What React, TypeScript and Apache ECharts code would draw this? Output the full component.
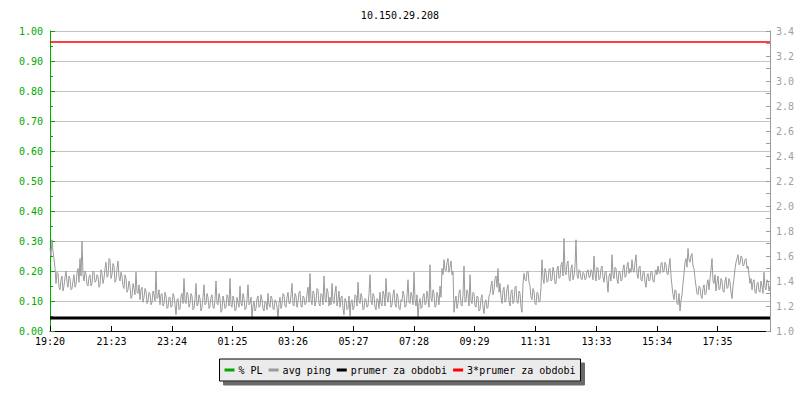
import React, { useEffect, useRef } from "react";
import * as echarts from "echarts";

const title = "10.150.29.208";
const STEP_MIN = 2; // minutes between samples
const X_MAX_MIN = 1440;
const tickMinutes = [0, 123, 244, 365, 486, 607, 728, 849, 971, 1093, 1214, 1335];
const tickLabels = ["19:20", "21:23", "23:24", "01:25", "03:26", "05:27", "07:28", "09:29", "11:31", "13:33", "15:34", "17:35"];
const legendNames = ["% PL", "avg ping", "prumer za obdobi", "3*prumer za obdobi"];
const plValues: number[] = [];
const prumer = 1.104;
const pingValues = [
  1.66,1.60, 1.73,1.64, 1.58,1.50, 1.38,1.47, 1.46,1.35, 1.33,1.41, 1.44,1.32, 1.36,1.43, 1.48,1.39, 1.35,1.44,
  1.42,1.33, 1.34,1.40, 1.45,1.35, 1.37,1.46, 1.50,1.39, 1.58,1.44, 1.72,1.45, 1.40,1.48, 1.46,1.37, 1.36,1.43,
  1.45,1.36, 1.38,1.48, 1.47,1.39, 1.40,1.45, 1.44,1.35, 1.37,1.49, 1.46,1.38, 1.42,1.50, 1.55,1.43, 1.44,1.58,
  1.57,1.42, 1.45,1.54, 1.52,1.39, 1.41,1.50, 1.56,1.43, 1.40,1.47, 1.44,1.36, 1.34,1.45, 1.42,1.31, 1.33,1.40,
  1.36,1.26, 1.28,1.38, 1.34,1.29, 1.47,1.31, 1.30,1.37, 1.25,1.33, 1.35,1.23, 1.27,1.34, 1.32,1.22, 1.24,1.31,
  1.30,1.21, 1.23,1.32, 1.29,1.24, 1.48,1.26, 1.27,1.33, 1.21,1.29, 1.30,1.20, 1.22,1.31, 1.28,1.18, 1.19,1.27,
  1.27,1.19, 1.20,1.30, 1.28,1.21, 1.13,1.25, 1.26,1.17, 1.18,1.28, 1.30,1.22, 1.42,1.24, 1.22,1.31, 1.29,1.19,
  1.22,1.30, 1.28,1.17, 1.18,1.26, 1.38,1.20, 1.21,1.29, 1.26,1.16, 1.19,1.27, 1.37,1.21, 1.22,1.30, 1.27,1.18,
  1.20,1.27, 1.29,1.19, 1.18,1.25, 1.40,1.22, 1.21,1.30, 1.26,1.15, 1.17,1.28, 1.24,1.18, 1.19,1.29, 1.27,1.20,
  1.42,1.21, 1.19,1.28, 1.25,1.16, 1.17,1.27, 1.23,1.19, 1.36,1.22, 1.20,1.30, 1.26,1.17, 1.18,1.25, 1.37,1.21,
  1.22,1.27, 1.11,1.20, 1.24,1.16, 1.18,1.26, 1.28,1.19, 1.20,1.29, 1.25,1.18, 1.16,1.24, 1.23,1.17, 1.30,1.21,
  1.19,1.28, 1.26,1.18, 1.17,1.25, 1.24,1.19, 1.10,1.22, 1.27,1.18, 1.21,1.30, 1.29,1.20, 1.19,1.27, 1.31,1.22,
  1.22,1.29, 1.38,1.21, 1.20,1.30, 1.28,1.19, 1.23,1.31, 1.32,1.20, 1.19,1.28, 1.27,1.21, 1.22,1.30, 1.35,1.23,
  1.46,1.25, 1.21,1.32, 1.30,1.20, 1.24,1.34, 1.33,1.22, 1.20,1.30, 1.29,1.21, 1.44,1.26, 1.23,1.34, 1.31,1.20,
  1.27,1.21, 1.38,1.24, 1.22,1.31, 1.36,1.20, 1.25,1.32, 1.19,1.27, 1.28,1.18, 1.13,1.26, 1.24,1.17, 1.18,1.28,
  1.12,1.23, 1.25,1.17, 1.19,1.29, 1.28,1.20, 1.39,1.24, 1.22,1.30, 1.27,1.17, 1.18,1.26, 1.25,1.19, 1.20,1.30,
  1.45,1.24, 1.21,1.30, 1.28,1.19, 1.17,1.26, 1.25,1.18, 1.31,1.22, 1.20,1.32, 1.29,1.20, 1.42,1.27, 1.23,1.31,
  1.30,1.19, 1.21,1.29, 1.33,1.22, 1.19,1.30, 1.27,1.18, 1.17,1.25, 1.24,1.32, 1.29,1.19, 1.20,1.28, 1.41,1.23,
  1.22,1.31, 1.28,1.21, 1.47,1.25, 1.20,1.29, 1.10,1.22, 1.26,1.18, 1.19,1.28, 1.30,1.21, 1.22,1.32, 1.27,1.19,
  1.53,1.26, 1.24,1.33, 1.30,1.19, 1.20,1.31, 1.28,1.21, 1.36,1.27, 1.50,1.45, 1.57,1.49, 1.48,1.55, 1.58,1.47,
  1.51,1.56, 1.45,1.48, 1.15,1.24, 1.28,1.18, 1.22,1.31, 1.33,1.21, 1.20,1.29, 1.52,1.23, 1.24,1.33, 1.30,1.20,
  1.45,1.24, 1.22,1.31, 1.30,1.20, 1.19,1.28, 1.27,1.16, 1.17,1.26, 1.29,1.19, 1.14,1.23, 1.25,1.18, 1.19,1.28,
  1.30,1.36, 1.40,1.29, 1.33,1.42, 1.44,1.35, 1.50,1.31, 1.38,1.27, 1.22,1.33, 1.35,1.23, 1.25,1.34, 1.37,1.24,
  1.20,1.31, 1.33,1.22, 1.24,1.35, 1.36,1.23, 1.22,1.32, 1.30,1.19, 1.15,1.38, 1.46,1.41, 1.40,1.47, 1.48,1.39,
  1.36,1.27, 1.25,1.34, 1.32,1.22, 1.21,1.31, 1.30,1.23, 1.24,1.35, 1.57,1.42, 1.38,1.50, 1.47,1.39, 1.40,1.49,
  1.50,1.40, 1.41,1.51, 1.47,1.38, 1.38,1.49, 1.52,1.42, 1.43,1.53, 1.55,1.44, 1.74,1.47, 1.45,1.54, 1.56,1.42,
  1.40,1.50, 1.53,1.41, 1.44,1.52, 1.73,1.45, 1.42,1.49, 1.48,1.42, 1.41,1.47, 1.46,1.41, 1.42,1.48, 1.49,1.43,
  1.43,1.49, 1.47,1.41, 1.60,1.46, 1.40,1.51, 1.50,1.41, 1.42,1.50, 1.52,1.43, 1.39,1.47, 1.48,1.40, 1.31,1.44,
  1.46,1.40, 1.61,1.45, 1.42,1.51, 1.50,1.41, 1.38,1.48, 1.47,1.40, 1.41,1.50, 1.53,1.43, 1.44,1.52, 1.55,1.46,
  1.50,1.47, 1.57,1.49, 1.47,1.55, 1.61,1.46, 1.42,1.51, 1.52,1.41, 1.40,1.47, 1.48,1.39, 1.35,1.44, 1.46,1.40,
  1.41,1.48, 1.47,1.40, 1.39,1.46, 1.49,1.45, 1.52,1.47, 1.46,1.54, 1.55,1.47, 1.48,1.55, 1.53,1.46, 1.45,1.52,
  1.58,1.44, 1.36,1.29, 1.25,1.33, 1.32,1.22, 1.21,1.30, 1.16,1.24, 1.29,1.38, 1.46,1.55, 1.58,1.51, 1.66,1.57,
  1.55,1.60, 1.62,1.52, 1.50,1.42, 1.36,1.30, 1.29,1.36, 1.35,1.28, 1.26,1.34, 1.37,1.29, 1.30,1.38, 1.41,1.33,
  1.42,1.49, 1.58,1.40, 1.38,1.45, 1.32,1.39, 1.44,1.33, 1.34,1.42, 1.40,1.32, 1.31,1.40, 1.43,1.34, 1.35,1.42,
  1.39,1.31, 1.26,1.36, 1.42,1.50, 1.55,1.58, 1.61,1.53, 1.54,1.60, 1.59,1.52, 1.53,1.57, 1.58,1.50, 1.52,1.45,
  1.38,1.42, 1.33,1.39, 1.41,1.31, 1.30,1.38, 1.39,1.32, 1.31,1.40, 1.36,1.30, 1.47,1.35, 1.33,1.41, 1.40,1.32, 1.36,
];

const FONT = "'DejaVu Sans Mono', 'Liberation Mono', monospace";
const GREEN = "#00a800";
const GRAY = "#9a9a9a";

export default function App() {
  const ref = useRef<HTMLDivElement>(null);
  useEffect(() => {
    if (!ref.current) return;
    const chart = echarts.init(ref.current, undefined, { renderer: "svg" });
    const pingData = pingValues.map((v, i) => [i * STEP_MIN, v]);
    chart.setOption({
      animation: false,
      backgroundColor: "#ffffff",
      title: {
        text: title,
        left: "center",
        top: 5,
        textStyle: { fontFamily: FONT, fontSize: 10, fontWeight: "normal", color: "#000" },
      },
      grid: { left: 50, right: 30, top: 31, bottom: 69, containLabel: false },
      legend: {
        data: legendNames.map((n) => ({ name: n, icon: "rect" })),
        left: "center",
        top: 359,
        padding: [6, 5, 6, 5],
        itemGap: 6,
        itemWidth: 10,
        itemHeight: 3,
        backgroundColor: "#ebebeb",
        borderColor: "#000",
        borderWidth: 1,
        borderRadius: 0,
        shadowColor: "#6a6a6a",
        shadowBlur: 0,
        shadowOffsetX: 4,
        shadowOffsetY: 4,
        textStyle: { fontFamily: FONT, fontSize: 10, color: "#000", padding: [0, 0, 0, -1] },
      },
      xAxis: {
        type: "value",
        min: 0,
        max: X_MAX_MIN,
        axisLine: { show: true, lineStyle: { color: "#000", width: 1 } },
        axisTick: { show: true, inside: true, length: 5, customValues: tickMinutes, lineStyle: { color: "#000" } },
        axisLabel: {
          customValues: tickMinutes,
          margin: 5,
          fontFamily: FONT,
          fontSize: 10,
          color: "#000",
          formatter: (v: number) => {
            const idx = tickMinutes.indexOf(Math.round(v));
            return idx >= 0 ? tickLabels[idx] : "";
          },
        },
        splitLine: { show: false },
      },
      yAxis: [
        {
          type: "value",
          min: 0,
          max: 1,
          interval: 0.1,
          position: "left",
          axisLine: { show: true, lineStyle: { color: GREEN, width: 1 } },
          axisTick: { show: true, inside: true, length: 5, lineStyle: { color: GREEN } },
          minorTick: { show: true, splitNumber: 2, length: 3, lineStyle: { color: GREEN } },
          axisLabel: {
            margin: 7,
            fontFamily: FONT,
            fontSize: 10,
            color: GREEN,
            formatter: (v: number) => v.toFixed(2),
          },
          splitLine: { show: true, lineStyle: { color: "#c4c4c4", width: 1 } },
        },
        {
          type: "value",
          min: 1.0,
          max: 3.4,
          interval: 0.2,
          position: "right",
          axisLine: { show: true, lineStyle: { color: GRAY, width: 1 } },
          axisTick: { show: true, inside: true, length: 4, lineStyle: { color: GRAY } },
          minorTick: { show: true, splitNumber: 2, length: 4, lineStyle: { color: GRAY } },
          axisLabel: {
            margin: 6,
            fontFamily: FONT,
            fontSize: 10,
            color: "#a0a0a0",
            formatter: (v: number) => v.toFixed(1),
          },
          splitLine: { show: false },
        },
      ],
      series: [
        {
          name: legendNames[0],
          type: "line",
          yAxisIndex: 0,
          data: plValues,
          showSymbol: false,
          symbol: "none",
          itemStyle: { color: GREEN },
          lineStyle: { color: GREEN, width: 1 },
        },
        {
          name: legendNames[1],
          type: "line",
          yAxisIndex: 1,
          data: pingData,
          showSymbol: false,
          symbol: "none",
          itemStyle: { color: GRAY },
          lineStyle: { color: GRAY, width: 1 },
        },
        {
          name: legendNames[2],
          type: "line",
          yAxisIndex: 1,
          data: [[0, prumer], [X_MAX_MIN, prumer]],
          showSymbol: false,
          symbol: "none",
          itemStyle: { color: "#000" },
          lineStyle: { color: "#000", width: 3 },
        },
        {
          name: legendNames[3],
          type: "line",
          yAxisIndex: 1,
          data: [[0, prumer * 3], [X_MAX_MIN, prumer * 3]],
          showSymbol: false,
          symbol: "none",
          itemStyle: { color: "#ff0000" },
          lineStyle: { color: "#ff0000", width: 1.5 },
        },
      ],
    });
    return () => chart.dispose();
  }, []);
  return (
    <div
      ref={ref}
      style={{ position: "fixed", left: 0, top: 0, width: 800, height: 400, background: "#fff" }}
    />
  );
}
